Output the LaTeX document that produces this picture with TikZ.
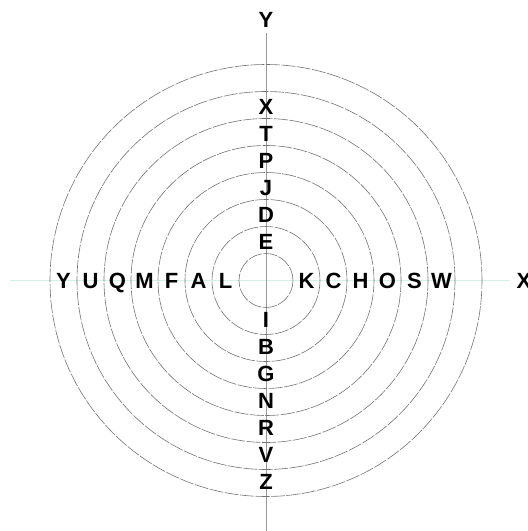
\documentclass[tikz,border=0pt]{standalone}
\usepackage{fontspec}
\setmainfont{Liberation Sans}
\definecolor{axisX}{RGB}{212,240,234}

\begin{document}
\begin{tikzpicture}[x=1pt,y=1pt,
  ring/.style={black!55, line width=0.6pt, dash pattern=on 14pt off 1.5pt},
  letter/.style={font=\bfseries\fontsize{22}{22}\selectfont, inner sep=0pt, text height=15.7pt, text depth=0pt}]
% 枠
\useasboundingbox (-266,-250.5) rectangle (262,280.5);

% 軸
\coordinate (xs) at (-256,0);
\coordinate (xe) at (244,0);
\coordinate (ys) at (0,-251);
\coordinate (ye) at (0,247.5);
\draw[axisX, line width=0.8pt] (xs) -- (xe);
\draw[gray!80, line width=0.6pt] (ys) -- (ye);
\node[letter] (labX) at (258,0) {X};
\node[letter] (labY) at (0,260.5) {Y};

% 同心円
\foreach \k in {1,...,8}
  \draw[ring] (0,0) circle ({27*\k});

% 左・右
\foreach \c [count=\i from 2] in {L,A,F,M,Q,U,Y}
  \node[letter] (w\c) at ({-27*(\i-0.5)},0) {\c};
\foreach \c [count=\i from 2] in {K,C,H,O,S,W}
  \node[letter] (e\c) at ({27*(\i-0.5)},0) {\c};

% 上・下
\foreach \c [count=\i from 2] in {E,D,J,P,T,X}
  \node[letter] (n\c) at (0,{27*(\i-0.5)-1.5}) {\c};
\foreach \c [count=\i from 2] in {I,B,G,N,R,V,Z}
  \node[letter] (s\c) at (0,{-27*(\i-0.5)+1}) {\c};

\end{tikzpicture}
\end{document}
